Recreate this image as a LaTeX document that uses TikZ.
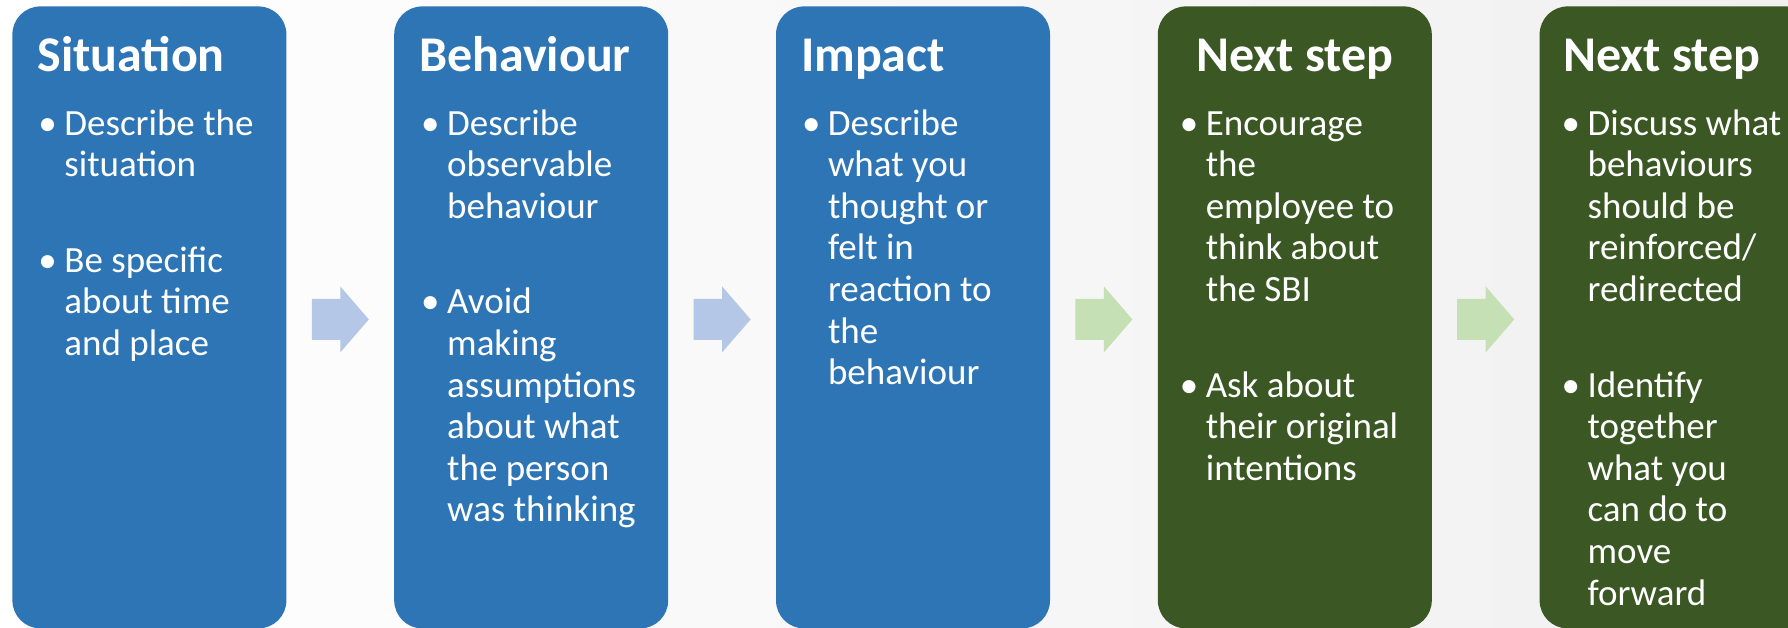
\documentclass[tikz,border=0pt]{standalone}
\usepackage{fontspec}
\setmainfont{Carlito}
\usepackage{tikz}
\usetikzlibrary{positioning,calc}

\definecolor{sbiblue}{HTML}{2E75B6}
\definecolor{sbigreen}{HTML}{3A5724}
\definecolor{arrowblue}{HTML}{B4C7E7}
\definecolor{arrowgreen}{HTML}{C5E0B4}
\definecolor{bggrey}{HTML}{F0F0F0}

\tikzset{
  stepbox/.style={draw=none, fill=#1, rounded corners=14pt, inner sep=0pt,
    minimum width=137pt, minimum height=311pt},
  boxtitle/.style={text=white, inner sep=0pt,
    font=\fontsize{25}{30}\selectfont\bfseries},
  boxbody/.style={text=white, inner sep=0pt, anchor=base west,
    font=\fontsize{18.5}{20.8}\selectfont},
  pics/steparrow/.style={code={
    \fill[pic actions] (-28.5,-20.5) -- (0,-20.5) -- (0,-33) -- (28.5,0)
      -- (0,33) -- (0,20.5) -- (-28.5,20.5) -- cycle;}}
}

% bullet with hanging text column
\newcommand{\itm}{\makebox[13pt][l]{\textbullet}}

\begin{document}
\begin{tikzpicture}[x=0.5pt, y=-0.5pt, node distance=53.5pt]
  \useasboundingbox (0,0) rectangle (1788,627);
  \shade[left color=white, right color=bggrey] (0,0) rectangle (1788,627);

  \begin{scope}
  \clip (0,0) rectangle (1788,627);
  % the five boxes
  \node[stepbox=sbiblue, anchor=north west] (sit) at (12,6) {};
  \node[stepbox=sbiblue] (beh) [right=of sit] {};
  \node[stepbox=sbiblue] (imp) [right=of beh] {};
  \node[stepbox=sbigreen] (nxt) [right=of imp] {};
  \node[stepbox=sbigreen] (fwd) [right=of nxt] {};
  \end{scope}

  % arrows in the gaps
  \pic[fill=arrowblue] at ($(sit.east)!0.5!(beh.west)+(0,2)$) {steparrow};
  \pic[fill=arrowblue] at ($(beh.east)!0.5!(imp.west)+(0,2)$) {steparrow};
  \pic[fill=arrowgreen] at ($(imp.east)!0.5!(nxt.west)+(0,2)$) {steparrow};
  \pic[fill=arrowgreen] at ($(nxt.east)!0.5!(fwd.west)+(0,2)$) {steparrow};

  % titles
  \node[boxtitle, anchor=base west] (sitT) at ([shift={(25,65)}]sit.north west) {Situation};
  \node[boxtitle, anchor=base west] (behT) at ([shift={(25,65)}]beh.north west) {Behaviour};
  \node[boxtitle, anchor=base west] (impT) at ([shift={(25,65)}]imp.north west) {Impact};
  \node[boxtitle, anchor=base] (nxtT) at ([shift={(0,65)}]nxt.north) {Next step};
  \node[boxtitle, anchor=base west] (fwdT) at ([shift={(24,65)}]fwd.north west) {Next step};

  % bullet texts
  \node[boxbody] (sitB) at ([shift={(26,129)}]sit.north west) {%
    \begin{tabular}[t]{@{}l@{}l@{}}
      \itm & Describe the\\ & situation\\[27pt]
      \itm & Be specific\\ & about time\\ & and place
    \end{tabular}};
  \node[boxbody] (behB) at ([shift={(27,129)}]beh.north west) {%
    \begin{tabular}[t]{@{}l@{}l@{}}
      \itm & Describe\\ & observable\\ & behaviour\\[27pt]
      \itm & Avoid\\ & making\\ & assumptions\\ & about what\\ & the person\\ & was thinking
    \end{tabular}};
  \node[boxbody] (impB) at ([shift={(26,129)}]imp.north west) {%
    \begin{tabular}[t]{@{}l@{}l@{}}
      \itm & Describe\\ & what you\\ & thought or\\ & felt in\\ & reaction to\\ & the\\ & behaviour
    \end{tabular}};
  \node[boxbody] (nxtB) at ([shift={(22,129)}]nxt.north west) {%
    \begin{tabular}[t]{@{}l@{}l@{}}
      \itm & Encourage\\ & the\\ & employee to\\ & think about\\ & the SBI\\[27pt]
      \itm & Ask about\\ & their original\\ & intentions
    \end{tabular}};
  \node[boxbody] (fwdB) at ([shift={(22,129)}]fwd.north west) {%
    \begin{tabular}[t]{@{}l@{}l@{}}
      \itm & Discuss what\\ & behaviours\\ & should be\\ & reinforced/\\ & redirected\\[27pt]
      \itm & Identify\\ & together\\ & what you\\ & can do to\\ & move\\ & forward
    \end{tabular}};
\end{tikzpicture}
\end{document}
